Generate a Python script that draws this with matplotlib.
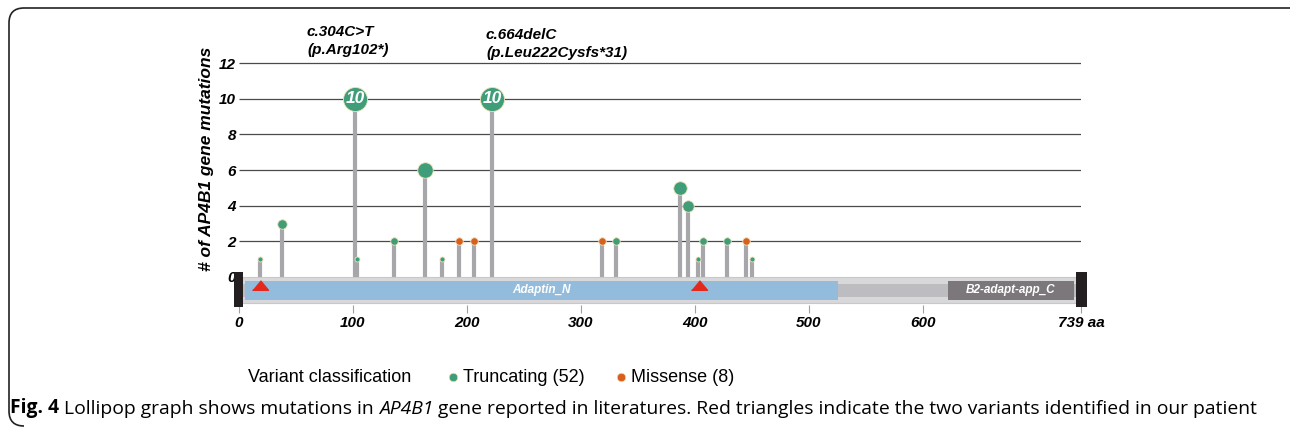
import matplotlib
matplotlib.use('Agg')
import matplotlib.pyplot as plt
from matplotlib.patches import Rectangle
from matplotlib.path import Path
from matplotlib.patches import PathPatch

# Mutation data (amino acid position, count, type)
positions = [18, 38, 102, 104, 136, 163, 178, 193, 206, 222, 319, 331, 387, 394, 403, 407, 428, 445, 450]
counts = [1, 3, 10, 1, 2, 6, 1, 2, 2, 10, 2, 2, 5, 4, 1, 2, 2, 2, 1]
kinds = ['T', 'T', 'T', 'T', 'T', 'T', 'T', 'M', 'M', 'T', 'M', 'T', 'T', 'T', 'T', 'T', 'T', 'M', 'T']

protein_length = 739
domain_names = ['Adaptin_N', 'B2-adapt-app_C']
domain_starts = [5, 622]
domain_ends = [526, 733]
patient_variants = [18, 404]

x_ticks = [0, 100, 200, 300, 400, 500, 600, 739]
x_labels = ['0', '100', '200', '300', '400', '500', '600', '739 aa']
y_ticks = [0, 2, 4, 6, 8, 10, 12]

GREEN = '#3f9d79'
ORANGE = '#d95f1e'
STEM = '#a7a6aa'
BF = 'Liberation Sans'

# marker diameter in px by count
diam = {1: 5, 2: 7.5, 3: 9.5, 4: 11.5, 5: 13.5, 6: 15.5, 10: 24}

fig = plt.figure(figsize=(12.9, 4.32), dpi=100)

W, H = 1290, 432
ax = fig.add_axes([239 / W, 1 - 313 / H, 842 / W, (313 - 40) / H])
ax.set_xlim(0, protein_length)
ax.set_ylim(-36 / 17.83, 237 / 17.83)
ax.set_facecolor('none')
for s in ax.spines.values():
    s.set_visible(False)

# grid lines
ax.hlines(y_ticks[1:], 0, protein_length, color='#4a4a4a', lw=0.9, zorder=1)

# stems
ax.vlines(positions, 0, counts, color=STEM, lw=3.0, zorder=2)

# heads
for p, c, k in zip(positions, counts, kinds):
    d = diam[c] * 0.72
    ax.scatter([p], [c], s=d ** 2, color=GREEN if k == 'T' else ORANGE,
               edgecolor='#ece3b8', linewidth=0.6, zorder=4)
    if c >= 10:
        ax.text(p, c, str(c), color='white', fontsize=12.5, fontweight='bold',
                fontstyle='italic', family=BF, ha='center', va='center', zorder=5)

# protein backbone
ax.add_patch(Rectangle((0, -1.46), protein_length, 1.46, facecolor='#d8d8db',
                       edgecolor='#c8c8cb', lw=0.8, zorder=3))
ax.add_patch(Rectangle((0, -1.12), protein_length, 0.73, facecolor='#bdbcc0',
                       edgecolor='none', zorder=3))
dom_colors = ['#93bbdc', '#7b777a']
for name, a, b, col in zip(domain_names, domain_starts, domain_ends, dom_colors):
    ax.add_patch(Rectangle((a, -1.29), b - a, 1.07, facecolor=col, edgecolor='none', zorder=3))
    ax.text((a + b) / 2, -0.75, name, color='white', fontsize=8.5, fontweight='bold',
            fontstyle='italic', family=BF, ha='center', va='center', zorder=4)

# end caps
ax.add_patch(Rectangle((-4.4, -1.68), 8.0, 1.96, facecolor='#231f20', zorder=4, clip_on=False))
ax.add_patch(Rectangle((735, -1.68), 9.0, 1.96, facecolor='#231f20', zorder=4, clip_on=False))

# patient variants
tri = [(-1, -0.6), (1, -0.6), (0, 0.6)]
ax.plot(patient_variants, [-0.45] * len(patient_variants), linestyle='none', marker=tri,
        markersize=11.5, color='#e3281c', zorder=5)

# ticks
ax.set_yticks(y_ticks)
ax.set_yticklabels([str(v) for v in y_ticks], fontsize=11, fontweight='bold',
                   fontstyle='italic', family=BF)
ax.tick_params(axis='y', length=0, pad=2)
ax.set_xticks(x_ticks)
ax.set_xticklabels(x_labels, fontsize=11, fontweight='bold', fontstyle='italic', family=BF)
ax.tick_params(axis='x', direction='in', length=5.8, width=0.8, color='#a0a0a0', pad=2)

# overlay in pixel coordinates for text and frame
ov = fig.add_axes([0, 0, 1, 1], zorder=-1)
ov.set_xlim(0, W)
ov.set_ylim(H, 0)
ov.axis('off')

verts = [(1300, 8), (24, 8), (9, 8), (9, 23), (9, 411), (9, 426), (24, 426)]
codes = [Path.MOVETO, Path.LINETO, Path.CURVE3, Path.CURVE3, Path.LINETO, Path.CURVE3, Path.CURVE3]
ov.add_patch(PathPatch(Path(verts, codes), facecolor='none', edgecolor='#222222', lw=1.2))

ov.text(206, 159, '# of AP4B1 gene mutations', rotation=90, fontsize=12.5, fontweight='bold',
        fontstyle='italic', family=BF, ha='center', va='center')

ov.text(307, 41, 'c.304C>T\n(p.Arg102*)', fontsize=11, fontweight='bold', fontstyle='italic',
        family=BF, ha='left', va='center', linespacing=1.3)
ov.text(486, 44, 'c.664delC\n(p.Leu222Cysfs*31)', fontsize=11, fontweight='bold', fontstyle='italic',
        family=BF, ha='left', va='center', linespacing=1.3)

# legend
ov.text(248, 377, 'Variant classification', fontsize=13, family=BF, ha='left', va='center')
ov.scatter([453], [377], s=(8.5 * 0.72) ** 2, color=GREEN, edgecolor='#ece3b8', linewidth=0.5)
ov.text(463, 377, 'Truncating (52)', fontsize=13, family=BF, ha='left', va='center')
ov.scatter([621], [377], s=(8.5 * 0.72) ** 2, color=ORANGE, edgecolor='#ece3b8', linewidth=0.5)
ov.text(631, 377, 'Missense (8)', fontsize=13, family=BF, ha='left', va='center')

# caption
CF = 'Open Sans'
t1 = ov.text(10, 408, 'Fig. 4', fontsize=13.9, fontweight='bold', family=CF, ha='left', va='center')
t2 = ov.annotate(' Lollipop graph shows mutations in ', xy=(1, 0), xycoords=t1, fontsize=13.9,
                 family=CF, ha='left', va='bottom')
t3 = ov.annotate('AP4B1', xy=(1, 0), xycoords=t2, fontsize=13.9, fontstyle='italic',
                 family=CF, ha='left', va='bottom')
ov.annotate(' gene reported in literatures. Red triangles indicate the two variants identified in our patient',
            xy=(1, 0), xycoords=t3, fontsize=13.9, family=CF, ha='left', va='bottom')

fig.savefig('out.png', dpi=100)
